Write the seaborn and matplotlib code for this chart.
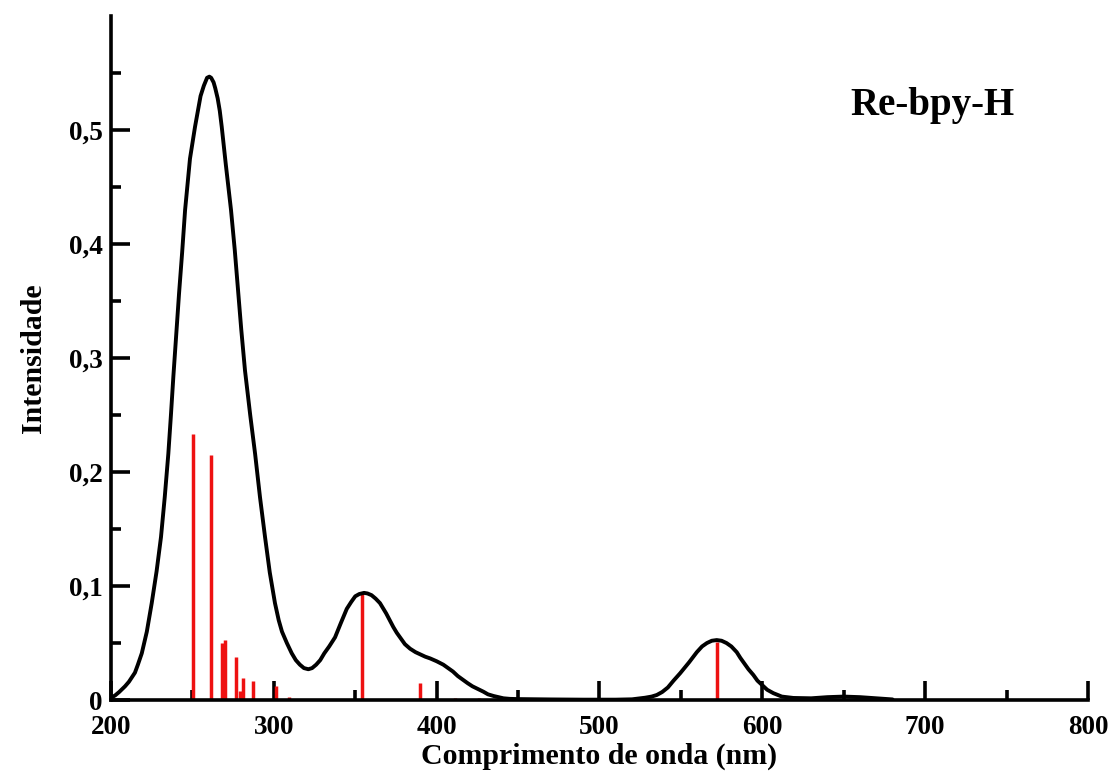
import matplotlib
matplotlib.use("Agg")
import matplotlib.pyplot as plt
import seaborn as sns
import pandas as pd
from matplotlib.ticker import MultipleLocator, FuncFormatter

# ---- data ----
curve_wl = [200, 202.5, 205, 208.6, 211, 214.7, 216.5, 218.9, 222, 225, 228, 230.7,
            233, 235.2, 236.8, 238.3, 240, 241.8, 243.7, 245.5, 248.5, 251.6, 253.5,
            255, 257, 259, 260.4, 261.5, 263, 264, 265.5, 266.8, 268, 270.5, 273.7,
            276, 278.2, 280, 282.3, 285.5, 288.5, 291.5, 294.6, 297.5, 300.7, 303,
            305, 308, 311, 313.5, 316, 318.5, 321.2, 323.5, 326, 328.5, 331, 334,
            337.6, 341, 344.8, 347.5, 350, 352.5, 355.4, 357.5, 360, 362.5, 365.2,
            369, 373.4, 375.5, 378, 380.5, 383.7, 387, 390, 393, 396, 400, 404.1,
            407, 410, 413, 416.4, 419, 422, 425.5, 428.7, 431.5, 435, 438, 441, 445,
            450, 470, 490, 510, 520, 528, 532, 535.2, 538.5, 542, 545.5, 549.5, 555,
            559.8, 563, 566, 569, 572, 575, 578, 581, 584.3, 586.5, 589, 591.5, 594.5,
            597, 600, 603, 606.8, 612, 619.1, 630, 640, 650, 660, 670, 680]
curve_int = [0.002, 0.004, 0.007, 0.012, 0.016, 0.024, 0.031, 0.041, 0.060, 0.085, 0.113, 0.143,
             0.178, 0.216, 0.250, 0.284, 0.320, 0.357, 0.393, 0.430, 0.475, 0.503, 0.518,
             0.530, 0.539, 0.546, 0.547, 0.546, 0.542, 0.537, 0.528, 0.517, 0.503, 0.470, 0.430,
             0.395, 0.357, 0.325, 0.289, 0.250, 0.216, 0.178, 0.143, 0.112, 0.085, 0.070,
             0.060, 0.050, 0.041, 0.035, 0.031, 0.028, 0.027, 0.028, 0.031, 0.035, 0.041, 0.047,
             0.055, 0.067, 0.080, 0.086, 0.091, 0.093, 0.094, 0.0935, 0.092, 0.089, 0.085,
             0.076, 0.064, 0.059, 0.054, 0.049, 0.045, 0.042, 0.040, 0.038, 0.0365, 0.034, 0.031,
             0.028, 0.025, 0.021, 0.0175, 0.0148, 0.012, 0.0095, 0.0073, 0.005, 0.0035, 0.0025, 0.0015, 0.001,
             0.0008, 0.0005, 0.0003, 0.0003, 0.0006, 0.002, 0.003, 0.0044, 0.007, 0.011, 0.017, 0.0234, 0.033,
             0.042, 0.047, 0.050, 0.052, 0.0526, 0.052, 0.050, 0.047, 0.042, 0.037, 0.032, 0.027, 0.022,
             0.017, 0.013, 0.009, 0.006, 0.003, 0.0018, 0.0015, 0.0025, 0.003, 0.0025, 0.0015, 0.0005]

stick_wl = [250.6, 261.4, 268.0, 270.2, 276.8, 279.0, 281.0, 287.4, 301.3, 309.5,
            354.4, 389.8, 411.3, 426.2, 572.0]
stick_int = [0.233, 0.215, 0.050, 0.053, 0.038, 0.008, 0.019, 0.017, 0.012, 0.003,
             0.094, 0.0146, 0.002, 0.002, 0.051]

x_ticks = [200, 300, 400, 500, 600, 700, 800]
y_ticks = [0, 0.1, 0.2, 0.3, 0.4, 0.5]

title_text = "Re-bpy-H"
x_label = "Comprimento de onda (nm)"
y_label = "Intensidade"

# ---- style ----
sns.set_style("ticks")
plt.rcParams['font.family'] = ['Liberation Serif', 'DejaVu Serif']
plt.rcParams['font.weight'] = 'bold'
plt.rcParams['text.color'] = 'black'
plt.rcParams['axes.labelcolor'] = 'black'
plt.rcParams['xtick.color'] = 'black'
plt.rcParams['ytick.color'] = 'black'

fig = plt.figure(figsize=(11.09, 7.74), dpi=100)
ax = fig.add_axes([0.1001, 0.0956, 0.981 - 0.1001, 0.979 - 0.0956])

df_curve = pd.DataFrame({"wl": curve_wl, "inten": curve_int})
ax.vlines(stick_wl, 0, stick_int, colors="#ee1111", linewidth=2.5, zorder=2)
sns.lineplot(data=df_curve, x="wl", y="inten", ax=ax, color="black",
             linewidth=2.8, zorder=3, sort=False)

ax.set_xlim(200, 800)
ax.set_ylim(0, 0.6)

ax.set_xticks(x_ticks)
ax.xaxis.set_minor_locator(MultipleLocator(50))
ax.set_yticks(y_ticks)
ax.set_yticks([0.05, 0.15, 0.25, 0.35, 0.45, 0.55], minor=True)

def yfmt(v, pos):
    if abs(v) < 1e-9:
        return "0"
    return f"{v:.1f}".replace(".", ",")

ax.yaxis.set_major_formatter(FuncFormatter(yfmt))

ax.tick_params(axis="both", which="major", direction="in", length=14, width=2.6,
               labelsize=19.5, color="black", labelcolor="black")
ax.tick_params(axis="x", which="major", pad=11)
ax.tick_params(axis="y", which="major", pad=6)
ax.tick_params(axis="both", which="minor", direction="in", length=7, width=2.6,
               color="black")
for lab in ax.get_xticklabels() + ax.get_yticklabels():
    lab.set_fontweight("bold")
# the "0" label sits slightly above the origin in the reference
ax.get_yticklabels()[0].set_verticalalignment("center_baseline")

sns.despine(ax=ax, top=True, right=True)
for s in ["left", "bottom"]:
    ax.spines[s].set_linewidth(2.6)
    ax.spines[s].set_color("black")

ax.set_xlabel(x_label, fontsize=21.5, fontweight="bold", labelpad=2, color="black")
ax.set_ylabel(y_label, fontsize=21.5, fontweight="bold", labelpad=16, color="black")

ax.text(0.841, 0.870, title_text, transform=ax.transAxes, fontsize=28,
        fontweight="bold", ha="center", va="center", color="black")

fig.savefig("out.png", dpi=100, facecolor="white")
